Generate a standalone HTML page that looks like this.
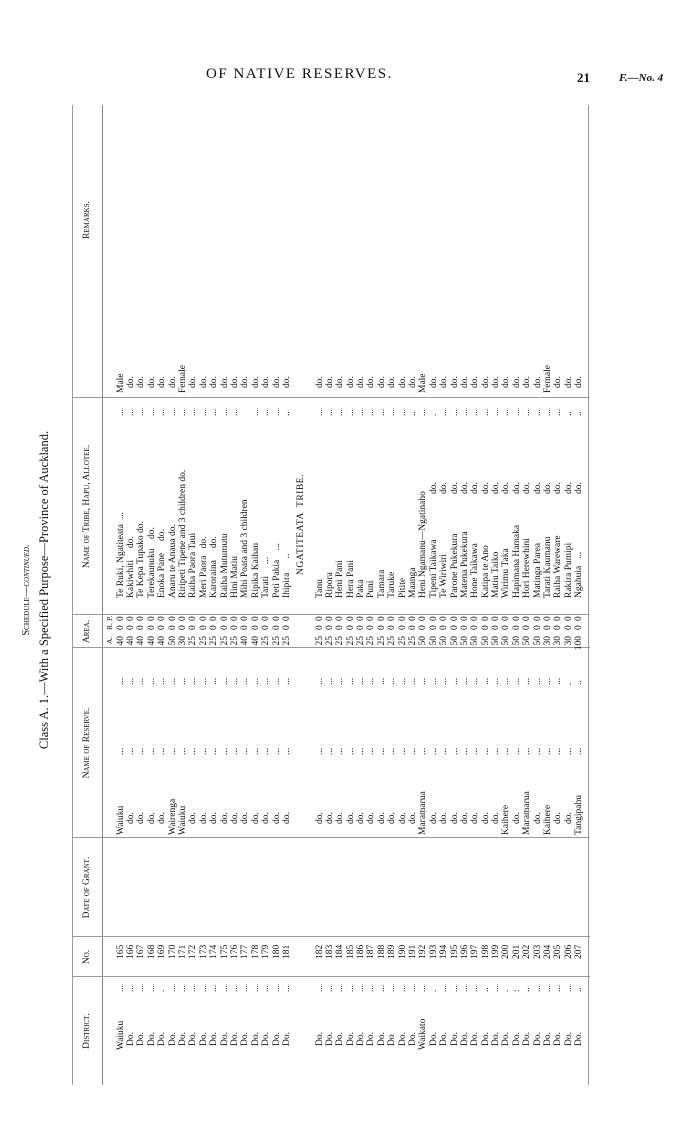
<!DOCTYPE html>
<html><head><meta charset="utf-8"><style>
html,body{margin:0;padding:0;background:#fff;}
body{width:700px;height:1139px;position:relative;overflow:hidden;font-family:"Liberation Serif",serif;color:#111;}
.title{position:absolute;left:206px;top:66px;font-size:15px;letter-spacing:1.5px;}
.pg{position:absolute;left:577px;top:70px;font-size:13px;font-weight:bold;}
.fno{position:absolute;left:619px;top:72px;font-size:11px;font-weight:bold;font-style:italic;}
#t{position:absolute;left:72px;top:1090px;width:1000px;height:520px;transform-origin:0 0;transform:rotate(-90deg);font-size:9.5px;line-height:10px;}
#t div{position:absolute;white-space:nowrap;}
.h{top:10px;font-variant:small-caps;font-size:9.5px;text-align:center;}
.vl{top:0;width:0;height:518px;border-left:1px solid #999;}
.r{left:0;width:1000px;height:10px;}
.r span{position:absolute;top:0;}
.cap1{top:-50px;left:0;width:1000px;text-align:center;font-size:10.5px;font-variant:small-caps;}
.cap2{top:-33px;left:0;width:1000px;text-align:center;font-size:12.5px;}
.d{left:40px}.dd{left:44px}.dt{left:98px}.n{left:131px}.rs{left:255px}.rsd{left:266px}
.rd1{left:335px}.rd2{left:405px}.a1{left:438px;width:16px;text-align:right}.a2{left:460px}.a3{left:469px}
.nm{left:492px}.nd{left:596px}.ndt{left:674px}.rm{left:697px}.rmd{left:702px}
</style></head><body>
<div class="title">OF NATIVE RESERVES.</div>
<div class="pg">21</div>
<div class="fno">F.—No. 4</div>
<div id="t">
<div class="cap1">Schedule—<i>continued.</i></div>
<div class="cap2">Class A. 1.—With a Specified Purpose—Province of Auckland.</div>
<div style="left:5px;top:0;width:980px;height:0;border-top:1px solid #999;"></div>
<div style="left:5px;top:30px;width:980px;height:0;border-top:1px solid #888;"></div>
<div style="left:5px;top:516px;width:980px;height:0;border-top:1px solid #999;"></div>
<div class="vl" style="left:113px"></div><div class="vl" style="left:153px"></div>
<div class="vl" style="left:252px"></div><div class="vl" style="left:442px"></div>
<div class="vl" style="left:475px"></div><div class="vl" style="left:692px"></div>
<div class="h" style="left:5px;width:108px">District.</div>
<div class="h" style="left:113px;width:40px">No.</div>
<div class="h" style="left:153px;width:99px">Date of Grant.</div>
<div class="h" style="left:252px;width:190px">Name of Reserve.</div>
<div class="h" style="left:442px;width:33px">Area.</div>
<div class="h" style="left:475px;width:217px">Name of Tribe, Hapu, Allotee.</div>
<div class="h" style="left:780px;width:180px">Remarks.</div>
<div class="r" style="top:33px;font-size:7.5px"><span style="left:446px">A.</span><span style="left:460px">R.</span><span style="left:469px">P.</span></div>

<div class="r" style="top:43.5px"><span class="d">Waiuku</span><span class="dt">...</span><span class="n">165</span><span class="rs">Waiuku</span><span class="rd1">...</span><span class="rd2">...</span><span class="a1">40</span><span class="a2">0</span><span class="a3">0</span><span class="nm">Te Ruki, Ngatiteata &nbsp;...</span><span class="ndt">...</span><span class="rm">Male</span></div>
<div class="r" style="top:53.9px"><span class="dd">Do.</span><span class="dt">...</span><span class="n">166</span><span class="rsd">do.</span><span class="rd1">...</span><span class="rd2">...</span><span class="a1">40</span><span class="a2">0</span><span class="a3">0</span><span class="nm">Kakiwhiti &nbsp;&nbsp;&nbsp; do.</span><span class="ndt">...</span><span class="rmd">do.</span></div>
<div class="r" style="top:64.3px"><span class="dd">Do.</span><span class="dt">...</span><span class="n">167</span><span class="rsd">do.</span><span class="rd1">...</span><span class="rd2">...</span><span class="a1">40</span><span class="a2">0</span><span class="a3">0</span><span class="nm">Te Kepa Tupako do.</span><span class="ndt">...</span><span class="rmd">do.</span></div>
<div class="r" style="top:74.7px"><span class="dd">Do.</span><span class="dt">...</span><span class="n">168</span><span class="rsd">do.</span><span class="rd1">...</span><span class="rd2">...</span><span class="a1">40</span><span class="a2">0</span><span class="a3">0</span><span class="nm">Terekaunuku &nbsp;&nbsp; do.</span><span class="ndt">...</span><span class="rmd">do.</span></div>
<div class="r" style="top:85.1px"><span class="dd">Do.</span><span class="dt">.</span><span class="n">169</span><span class="rsd">do.</span><span class="rd1">...</span><span class="rd2">...</span><span class="a1">40</span><span class="a2">0</span><span class="a3">0</span><span class="nm">Enoka Pane &nbsp;&nbsp;&nbsp; do.</span><span class="ndt">...</span><span class="rmd">do.</span></div>
<div class="r" style="top:95.5px"><span class="dd">Do.</span><span class="dt">...</span><span class="n">170</span><span class="rs">Wairenga</span><span class="rd1">...</span><span class="rd2">...</span><span class="a1">50</span><span class="a2">0</span><span class="a3">0</span><span class="nm">Anaru te Anaua do.</span><span class="ndt">...</span><span class="rmd">do.</span></div>
<div class="r" style="top:105.9px"><span class="dd">Do.</span><span class="dt">...</span><span class="n">171</span><span class="rs">Waiuku</span><span class="rd1">...</span><span class="rd2">...</span><span class="a1">30</span><span class="a2">0</span><span class="a3">0</span><span class="nm">Riripeti Tipene and 3 children do.</span><span class="ndt">...</span><span class="rm">Female</span></div>
<div class="r" style="top:116.3px"><span class="dd">Do.</span><span class="dt">...</span><span class="n">172</span><span class="rsd">do.</span><span class="rd1">...</span><span class="rd2">...</span><span class="a1">25</span><span class="a2">0</span><span class="a3">0</span><span class="nm">Raiha Paora Taui</span><span class="ndt">...</span><span class="rmd">do.</span></div>
<div class="r" style="top:126.7px"><span class="dd">Do.</span><span class="dt">...</span><span class="n">173</span><span class="rsd">do.</span><span class="rd1">...</span><span class="rd2">...</span><span class="a1">25</span><span class="a2">0</span><span class="a3">0</span><span class="nm">Meri Paora &nbsp; do.</span><span class="ndt">...</span><span class="rmd">do.</span></div>
<div class="r" style="top:137.1px"><span class="dd">Do.</span><span class="dt">...</span><span class="n">174</span><span class="rsd">do.</span><span class="rd1">...</span><span class="rd2">...</span><span class="a1">25</span><span class="a2">0</span><span class="a3">0</span><span class="nm">Karoraina &nbsp;&nbsp;&nbsp; do.</span><span class="ndt">...</span><span class="rmd">do.</span></div>
<div class="r" style="top:147.5px"><span class="dd">Do.</span><span class="dt">...</span><span class="n">175</span><span class="rsd">do.</span><span class="rd1">...</span><span class="rd2">...</span><span class="a1">25</span><span class="a2">0</span><span class="a3">0</span><span class="nm">Raiha Mutumutu</span><span class="ndt">...</span><span class="rmd">do.</span></div>
<div class="r" style="top:157.9px"><span class="dd">Do.</span><span class="dt">...</span><span class="n">176</span><span class="rsd">do.</span><span class="rd1">...</span><span class="rd2">...</span><span class="a1">25</span><span class="a2">0</span><span class="a3">0</span><span class="nm">Hini Matiu</span><span class="ndt">...</span><span class="rmd">do.</span></div>
<div class="r" style="top:168.3px"><span class="dd">Do.</span><span class="dt">...</span><span class="n">177</span><span class="rsd">do.</span><span class="rd1">...</span><span class="rd2">...</span><span class="a1">40</span><span class="a2">0</span><span class="a3">0</span><span class="nm">Mihi Poata and 3 children</span><span class="rmd">do.</span></div>
<div class="r" style="top:178.7px"><span class="dd">Do.</span><span class="dt">...</span><span class="n">178</span><span class="rsd">do.</span><span class="rd1">...</span><span class="rd2">...</span><span class="a1">40</span><span class="a2">0</span><span class="a3">0</span><span class="nm">Ripika Kaihau</span><span class="ndt">...</span><span class="rmd">do.</span></div>
<div class="r" style="top:189.1px"><span class="dd">Do.</span><span class="dt">...</span><span class="n">179</span><span class="rsd">do.</span><span class="rd1">...</span><span class="rd2">...</span><span class="a1">25</span><span class="a2">0</span><span class="a3">0</span><span class="nm">Tarati &nbsp;&nbsp;&nbsp; ...</span><span class="ndt">...</span><span class="rmd">do.</span></div>
<div class="r" style="top:199.5px"><span class="dd">Do.</span><span class="dt">...</span><span class="n">180</span><span class="rsd">do.</span><span class="rd1">...</span><span class="rd2">...</span><span class="a1">25</span><span class="a2">0</span><span class="a3">0</span><span class="nm">Peti Pakia &nbsp;&nbsp; ...</span><span class="ndt">...</span><span class="rmd">do.</span></div>
<div class="r" style="top:209.9px"><span class="dd">Do.</span><span class="dt">...</span><span class="n">181</span><span class="rsd">do.</span><span class="rd1">...</span><span class="rd2">...</span><span class="a1">25</span><span class="a2">0</span><span class="a3">0</span><span class="nm">Ihipira &nbsp;&nbsp;&nbsp;&nbsp; ..</span><span class="ndt">..</span><span class="rmd">do.</span></div>

<div class="r" style="top:224px"><span style="left:515px;letter-spacing:0.5px">NGATITEATA &nbsp;TRIBE.</span></div>

<div class="r" style="top:242.5px"><span class="dd">Do.</span><span class="dt">...</span><span class="n">182</span><span class="rsd">do.</span><span class="rd1">...</span><span class="rd2">...</span><span class="a1">25</span><span class="a2">0</span><span class="a3">0</span><span class="nm">Tanu</span><span class="ndt">...</span><span class="rmd">do.</span></div>
<div class="r" style="top:252.9px"><span class="dd">Do.</span><span class="dt">...</span><span class="n">183</span><span class="rsd">do.</span><span class="rd1">...</span><span class="rd2">...</span><span class="a1">25</span><span class="a2">0</span><span class="a3">0</span><span class="nm">Ripora</span><span class="ndt">...</span><span class="rmd">do.</span></div>
<div class="r" style="top:263.3px"><span class="dd">Do.</span><span class="dt">...</span><span class="n">184</span><span class="rsd">do.</span><span class="rd1">...</span><span class="rd2">...</span><span class="a1">25</span><span class="a2">0</span><span class="a3">0</span><span class="nm">Heni Pani</span><span class="ndt">...</span><span class="rmd">do.</span></div>
<div class="r" style="top:273.6px"><span class="dd">Do.</span><span class="dt">...</span><span class="n">185</span><span class="rsd">do.</span><span class="rd1">...</span><span class="rd2">...</span><span class="a1">25</span><span class="a2">0</span><span class="a3">0</span><span class="nm">Hera Pani</span><span class="ndt">...</span><span class="rmd">do.</span></div>
<div class="r" style="top:284px"><span class="dd">Do.</span><span class="dt">...</span><span class="n">186</span><span class="rsd">do.</span><span class="rd1">...</span><span class="rd2">...</span><span class="a1">25</span><span class="a2">0</span><span class="a3">0</span><span class="nm">Paka</span><span class="ndt">...</span><span class="rmd">do.</span></div>
<div class="r" style="top:294.4px"><span class="dd">Do.</span><span class="dt">...</span><span class="n">187</span><span class="rsd">do.</span><span class="rd1">...</span><span class="rd2">...</span><span class="a1">25</span><span class="a2">0</span><span class="a3">0</span><span class="nm">Puni</span><span class="ndt">...</span><span class="rmd">do.</span></div>
<div class="r" style="top:304.8px"><span class="dd">Do.</span><span class="dt">...</span><span class="n">188</span><span class="rsd">do.</span><span class="rd1">...</span><span class="rd2">...</span><span class="a1">25</span><span class="a2">0</span><span class="a3">0</span><span class="nm">Tamara</span><span class="ndt">...</span><span class="rmd">do.</span></div>
<div class="r" style="top:315.2px"><span class="dd">Do</span><span class="dt">...</span><span class="n">189</span><span class="rsd">do.</span><span class="rd1">...</span><span class="rd2">...</span><span class="a1">25</span><span class="a2">0</span><span class="a3">0</span><span class="nm">Taruke</span><span class="ndt">...</span><span class="rmd">do.</span></div>
<div class="r" style="top:325.5px"><span class="dd">Do.</span><span class="dt">...</span><span class="n">190</span><span class="rsd">do.</span><span class="rd1">...</span><span class="rd2">...</span><span class="a1">25</span><span class="a2">0</span><span class="a3">0</span><span class="nm">Pitite</span><span class="ndt">...</span><span class="rmd">do.</span></div>
<div class="r" style="top:335.9px"><span class="dd">Do.</span><span class="dt">...</span><span class="n">191</span><span class="rsd">do.</span><span class="rd1">...</span><span class="rd2">...</span><span class="a1">25</span><span class="a2">0</span><span class="a3">0</span><span class="nm">Maanga</span><span class="ndt">..</span><span class="rmd">do.</span></div>
<div class="r" style="top:346.3px"><span class="d">Waikato</span><span class="dt">...</span><span class="n">192</span><span class="rs">Maramarua</span><span class="rd1">...</span><span class="rd2">...</span><span class="a1">50</span><span class="a2">0</span><span class="a3">0</span><span class="nm">Heni Ngamanu—Ngatinaho</span><span class="ndt">...</span><span class="rm">Male</span></div>
<div class="r" style="top:356.7px"><span class="dd">Do.</span><span class="dt">.</span><span class="n">193</span><span class="rsd">do.</span><span class="rd1">...</span><span class="rd2">...</span><span class="a1">50</span><span class="a2">0</span><span class="a3">0</span><span class="nm">Tipeni Taikawa</span><span class="nd">do.</span><span class="ndt">.</span><span class="rmd">do.</span></div>
<div class="r" style="top:367.1px"><span class="dd">Do.</span><span class="dt">...</span><span class="n">194</span><span class="rsd">do.</span><span class="rd1">...</span><span class="rd2">...</span><span class="a1">50</span><span class="a2">0</span><span class="a3">0</span><span class="nm">Te Wiriwiri</span><span class="nd">do.</span><span class="ndt">...</span><span class="rmd">do.</span></div>
<div class="r" style="top:377.5px"><span class="dd">Do.</span><span class="dt">...</span><span class="n">195</span><span class="rsd">do.</span><span class="rd1">...</span><span class="rd2">...</span><span class="a1">50</span><span class="a2">0</span><span class="a3">0</span><span class="nm">Parone Pukekura</span><span class="nd">do.</span><span class="ndt">...</span><span class="rmd">do.</span></div>
<div class="r" style="top:387.8px"><span class="dd">Do.</span><span class="dt">...</span><span class="n">196</span><span class="rsd">do.</span><span class="rd1">...</span><span class="rd2">...</span><span class="a1">50</span><span class="a2">0</span><span class="a3">0</span><span class="nm">Matena Pukekura</span><span class="nd">do.</span><span class="ndt">...</span><span class="rmd">do.</span></div>
<div class="r" style="top:398.2px"><span class="dd">Do.</span><span class="dt">...</span><span class="n">197</span><span class="rsd">do.</span><span class="rd1">...</span><span class="rd2">...</span><span class="a1">50</span><span class="a2">0</span><span class="a3">0</span><span class="nm">Hone Taikawa</span><span class="nd">do.</span><span class="ndt">...</span><span class="rmd">do.</span></div>
<div class="r" style="top:408.6px"><span class="dd">Do.</span><span class="dt">..</span><span class="n">198</span><span class="rsd">do.</span><span class="rd1">...</span><span class="rd2">...</span><span class="a1">50</span><span class="a2">0</span><span class="a3">0</span><span class="nm">Katipa te Ano</span><span class="nd">do.</span><span class="ndt">...</span><span class="rmd">do.</span></div>
<div class="r" style="top:419px"><span class="dd">Do.</span><span class="dt">...</span><span class="n">199</span><span class="rsd">do.</span><span class="rd1">...</span><span class="rd2">...</span><span class="a1">50</span><span class="a2">0</span><span class="a3">0</span><span class="nm">Matiu Taiko</span><span class="nd">do.</span><span class="ndt">...</span><span class="rmd">do.</span></div>
<div class="r" style="top:429.4px"><span class="dd">Do.</span><span class="dt">.</span><span class="n">200</span><span class="rs">Kaihere</span><span class="rd1">...</span><span class="rd2">...</span><span class="a1">50</span><span class="a2">0</span><span class="a3">0</span><span class="nm">Wirimu Taka</span><span class="nd">do.</span><span class="ndt">...</span><span class="rmd">do.</span></div>
<div class="r" style="top:439.8px"><span class="dd">Do.</span><span class="dt">:</span><span class="n">201</span><span class="rsd">do.</span><span class="rd1">...</span><span class="rd2">...</span><span class="a1">50</span><span class="a2">0</span><span class="a3">0</span><span class="nm">Hapimana Hamaka</span><span class="nd">do.</span><span class="ndt">...</span><span class="rmd">do.</span></div>
<div class="r" style="top:450.1px"><span class="dd">Do.</span><span class="dt">..</span><span class="n">202</span><span class="rs">Maramarua</span><span class="rd1">...</span><span class="rd2">...</span><span class="a1">50</span><span class="a2">0</span><span class="a3">0</span><span class="nm">Hori Herewhini</span><span class="nd">do.</span><span class="ndt">...</span><span class="rmd">do.</span></div>
<div class="r" style="top:460.5px"><span class="dd">Do.</span><span class="dt">...</span><span class="n">203</span><span class="rsd">do.</span><span class="rd1">...</span><span class="rd2">...</span><span class="a1">50</span><span class="a2">0</span><span class="a3">0</span><span class="nm">Matinga Parea</span><span class="nd">do.</span><span class="ndt">...</span><span class="rmd">do.</span></div>
<div class="r" style="top:470.9px"><span class="dd">Do.</span><span class="dt">...</span><span class="n">204</span><span class="rs">Kaihere</span><span class="rd1">...</span><span class="rd2">...</span><span class="a1">30</span><span class="a2">0</span><span class="a3">0</span><span class="nm">Tarati Kaumanu</span><span class="nd">do.</span><span class="ndt">...</span><span class="rm">Female</span></div>
<div class="r" style="top:481.3px"><span class="dd">Do.</span><span class="dt">...</span><span class="n">205</span><span class="rsd">do.</span><span class="rd1">...</span><span class="rd2">...</span><span class="a1">30</span><span class="a2">0</span><span class="a3">0</span><span class="nm">Raiha Wareware</span><span class="nd">do.</span><span class="ndt">...</span><span class="rmd">do.</span></div>
<div class="r" style="top:491.7px"><span class="dd">Do.</span><span class="dt">...</span><span class="n">206</span><span class="rsd">do.</span><span class="rd1">...</span><span class="rd2">.</span><span class="a1">30</span><span class="a2">0</span><span class="a3">0</span><span class="nm">Rakira Pumipi</span><span class="nd">do.</span><span class="ndt">..</span><span class="rmd">do.</span></div>
<div class="r" style="top:502.1px"><span class="dd">Do.</span><span class="dt">..</span><span class="n">207</span><span class="rs">Tangipahu</span><span class="rd1">...</span><span class="rd2">..</span><span class="a1">100</span><span class="a2">0</span><span class="a3">0</span><span class="nm">Ngahuia &nbsp; ...</span><span class="nd">do.</span><span class="ndt">..</span><span class="rmd">do.</span></div>
</div>
</body></html>
